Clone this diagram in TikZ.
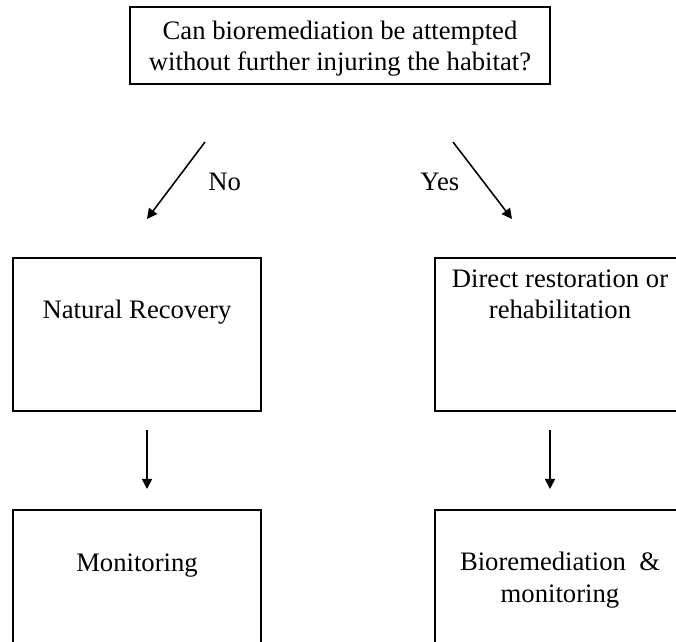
\documentclass[tikz,border=0pt]{standalone}
\usepackage{fontspec}
\setmainfont{Liberation Serif}
\usetikzlibrary{arrows.meta}
\begin{document}
\begin{tikzpicture}[x=0.45pt,y=-0.45pt,
  box/.style={draw, line width=0.9pt, rectangle, inner sep=0pt},
  txt/.style={inner sep=0pt, align=center, anchor=north, font=\fontsize{12}{14.2}\selectfont},
  lbl/.style={inner sep=0pt, anchor=base west, font=\fontsize{12}{14.2}\selectfont},
  arr/.style={line width=0.7pt, -{Triangle[length=4.6pt,width=4.6pt]}}]
\useasboundingbox (0,0) rectangle (676,641);

% question box
\node[box, minimum width=189pt, minimum height=34.65pt] (q) at (340,45.5) {};
\node[txt] (qt) at (340,16.9) {\strut Can bioremediation be attempted\\without further injuring the habitat?};

% branch arrows
\coordinate (noS) at (205,142);
\coordinate (noE) at (147,219);
\coordinate (yesS) at (453,142);
\coordinate (yesE) at (512,219);
\draw[arr] (noS) -- (noE);
\draw[arr] (yesS) -- (yesE);
\node[lbl] (no) at (208,190) {No};
\node[lbl] (yes) at (420,190) {Yes};

% middle row
\node[box, minimum width=111.6pt, minimum height=68.85pt] (nat) at (137,334.5) {};
\node[txt] (natt) at (137,295.9) {\strut Natural Recovery};
\node[box, minimum width=112.5pt, minimum height=68.85pt] (dir) at (560,334.5) {};
\node[txt] (dirt) at (560,264.9) {\strut Direct restoration or\\rehabilitation};

% down arrows
\coordinate (lS) at (147,430);
\coordinate (lE) at (147,489);
\coordinate (rS) at (550,430);
\coordinate (rE) at (550,489);
\draw[arr] (lS) -- (lE);
\draw[arr] (rS) -- (rE);

% bottom row
\node[box, minimum width=111.6pt, minimum height=63pt] (mon) at (137,580) {};
\node[txt] (mont) at (137,548.9) {\strut Monitoring};
\node[box, minimum width=112.5pt, minimum height=63pt] (bio) at (560,580) {};
\node[txt] (biot) at (560,547.9) {\strut Bioremediation \hspace{0.25em}\&\\monitoring};
\end{tikzpicture}
\end{document}
